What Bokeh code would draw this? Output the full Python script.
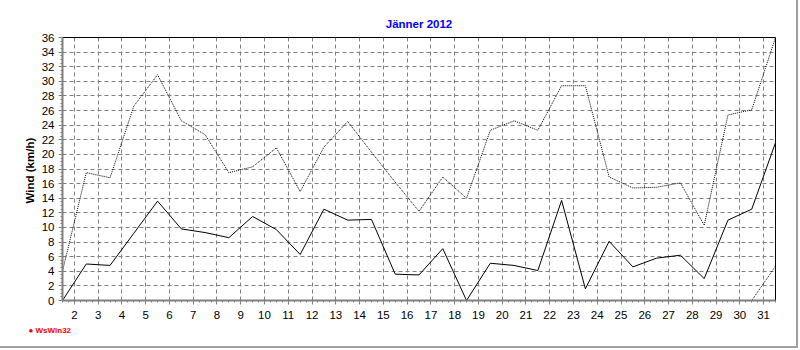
from bokeh.plotting import figure
from bokeh.models import Range1d, FixedTicker, Title, ColumnDataSource
from bokeh.embed import file_html
from bokeh.resources import INLINE

# ---- data ----
day_pos = [1.5, 2.5, 3.5, 4.5, 5.5, 6.5, 7.5, 8.5, 9.5, 10.5, 11.5, 12.5, 13.5, 14.5, 15.5,
           16.5, 17.5, 18.5, 19.5, 20.5, 21.5, 22.5, 23.5, 24.5, 25.5, 26.5, 27.5, 28.5,
           29.5, 30.5, 31.5]
wind_mean = [0.0, 5.0, 4.8, 9.2, 13.6, 9.8, 9.3, 8.6, 11.5, 9.7, 6.3, 12.5, 11.0, 11.1, 3.6,
             3.5, 7.1, 0.0, 5.1, 4.8, 4.1, 13.7, 1.6, 8.1, 4.6, 5.8, 6.2, 3.0, 11.0, 12.5, 21.6]
wind_max = [4.0, 17.5, 16.8, 26.6, 30.9, 24.6, 22.7, 17.5, 18.3, 20.9, 14.9, 21.0, 24.5, 20.3, 16.2,
            12.2, 16.9, 14.0, 23.3, 24.6, 23.3, 29.4, 29.4, 16.9, 15.4, 15.5, 16.1, 10.3, 25.4, 26.1, 36.0]
wind_min = [0.0, 0.0, 0.0, 0.0, 0.0, 0.0, 0.0, 0.0, 0.0, 0.0, 0.0, 0.0, 0.0, 0.0, 0.0,
            0.0, 0.0, 0.0, 0.0, 0.0, 0.0, 0.0, 0.0, 0.0, 0.0, 0.0, 0.0, 0.0, 0.0, 0.0, 4.7]
x_ticks = [2, 3, 4, 5, 6, 7, 8, 9, 10, 11, 12, 13, 14, 15, 16, 17, 18, 19, 20, 21, 22, 23, 24,
           25, 26, 27, 28, 29, 30, 31]
y_ticks = [0, 2, 4, 6, 8, 10, 12, 14, 16, 18, 20, 22, 24, 26, 28, 30, 32, 34, 36]

title_text = "Jänner 2012"
y_label = "Wind  (km/h)"
logo_text = "● WsWin32"

FONT = "Liberation Sans"
GRID = "#808080"

p = figure(width=798, height=348, output_backend="svg", toolbar_location=None,
           x_range=Range1d(1.5, 31.5), y_range=Range1d(0, 36),
           min_border_left=62, min_border_right=23, min_border_top=37, min_border_bottom=48)
p.styles = {"border-right": "2px solid #a0a0a0", "border-bottom": "2px solid #a0a0a0"}
p.background_fill_color = "white"
p.border_fill_color = "white"
p.outline_line_color = "black"
p.outline_line_width = 1

p.title.text = title_text
p.title.align = "center"
p.title.offset = -18
p.title.text_color = "#0000FF"
p.title.text_font = FONT
p.title.text_font_size = "11.5px"
p.title.text_font_style = "bold"
p.title.standoff = 15

# axes
p.xaxis.ticker = FixedTicker(ticks=x_ticks,
                             minor_ticks=[1.5 + i * 0.25 for i in range(121)])
p.yaxis.ticker = FixedTicker(ticks=y_ticks, minor_ticks=[i * 0.5 for i in range(73)])
for ax in (p.xaxis[0], p.yaxis[0]):
    ax.axis_line_color = GRID
    ax.axis_line_width = 2
    ax.major_tick_line_color = GRID
    ax.minor_tick_line_color = GRID
    ax.major_tick_in = 0
    ax.major_tick_out = 4
    ax.minor_tick_in = 0
    ax.minor_tick_out = 2
    ax.major_label_text_font = FONT
    ax.major_label_text_font_size = "11.5px"
    ax.major_label_text_color = "black"
p.xaxis.major_label_standoff = 6
p.yaxis.major_label_standoff = 4
p.yaxis.axis_label = y_label
p.yaxis.axis_label_text_font = FONT
p.yaxis.axis_label_text_font_size = "11.5px"
p.yaxis.axis_label_text_font_style = "bold"
p.yaxis.axis_label_standoff = 3
p.yaxis.axis_label_text_color = "black"

# grid
p.xgrid.ticker = FixedTicker(ticks=x_ticks)
p.ygrid.ticker = FixedTicker(ticks=y_ticks)
for g in (p.xgrid[0], p.ygrid[0]):
    g.grid_line_color = GRID
    g.grid_line_dash = "4 3"
    g.grid_line_width = 1

src = ColumnDataSource(data=dict(x=day_pos, mean=wind_mean, mx=wind_max, mn=wind_min))
p.line("x", "mn", source=src, color="black", line_width=1, line_dash="1 1")
p.line("x", "mx", source=src, color="black", line_width=1, line_dash="1 1")
p.line("x", "mean", source=src, color="black", line_width=1)

# WsWin32 logo below the axis
logo = Title(text=logo_text, align="left", offset=-34, text_color="red",
             text_font=FONT, text_font_size="8px", text_font_style="bold", standoff=5)
p.add_layout(logo, "below")

open("out.html", "w").write(file_html(p, INLINE))
